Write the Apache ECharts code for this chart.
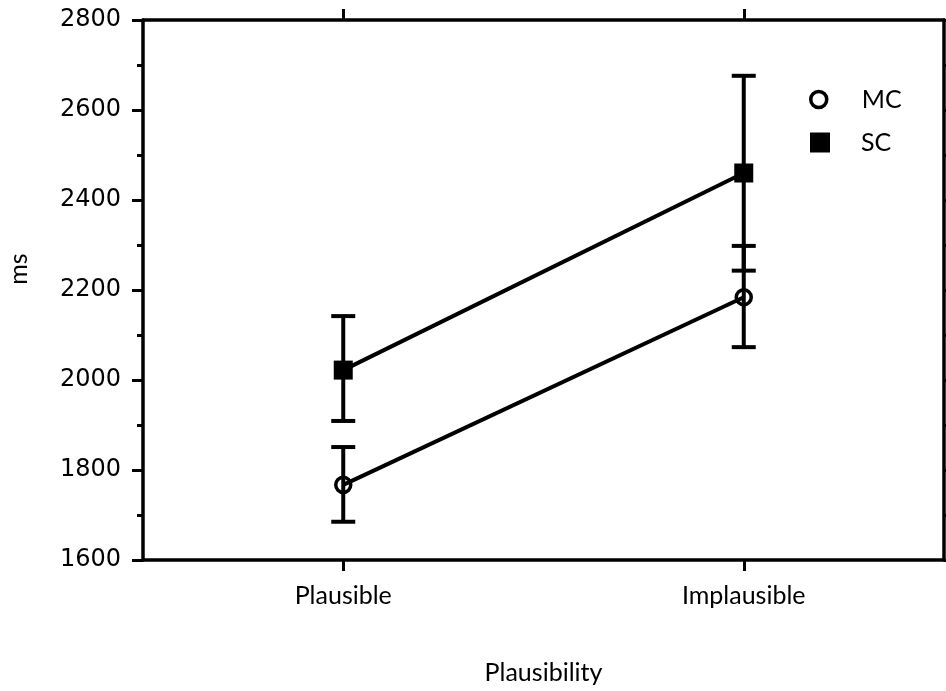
<!DOCTYPE html>
<html>
<head>
<meta charset="utf-8">
<script src="https://cdn.jsdelivr.net/npm/echarts@6/dist/echarts.min.js"></script>
<style>
  html, body { margin: 0; padding: 0; background: #fff; }
  #chart { width: 946px; height: 691px; }
</style>
</head>
<body>
<div id="chart"></div>
<script>
// values
const categories = ['Plausible', 'Implausible']
const mcMean = [1767, 2184]
const mcLow = [1685, 2073]
const mcHigh = [1851, 2298]
const scMean = [2022, 2460]
const scLow = [1909, 2243]
const scHigh = [2142, 2676]
const yTicks = [1600, 1800, 2000, 2200, 2400, 2600, 2800]

const font = 'Lato'
const numFont = 'DejaVu Sans'

function errorBars (low, high) {
  return {
    type: 'custom',
    silent: true,
    z: 1,
    data: categories.map((c, i) => [i, low[i], high[i]]),
    renderItem: (params, api) => {
      const lo = api.coord([api.value(0), api.value(1)])
      const hi = api.coord([api.value(0), api.value(2)])
      const w = 12
      const style = { stroke: '#000', lineWidth: 4 }
      return {
        type: 'group',
        children: [
          { type: 'line', shape: { x1: lo[0], y1: lo[1], x2: hi[0], y2: hi[1] }, style },
          { type: 'line', shape: { x1: lo[0] - w, y1: lo[1], x2: lo[0] + w, y2: lo[1] }, style },
          { type: 'line', shape: { x1: hi[0] - w, y1: hi[1], x2: hi[0] + w, y2: hi[1] }, style }
        ]
      }
    }
  }
}

const axisLine = { show: true, onZero: false, lineStyle: { color: '#000', width: 3.5 } }
const tick = { show: true, length: 11, lineStyle: { color: '#000', width: 3 } }
const legendText = { fontFamily: font, fontSize: 25, color: '#000', padding: [0, 0, 0, 30] }

let myChart = echarts.init(document.getElementById('chart'))
myChart.setOption({
  animation: false,
  textStyle: { fontFamily: font, color: '#000' },
  grid: { left: 143, top: 20, right: 2, bottom: 131 },
  legend: [{
    left: 804,
    top: 82,
    itemWidth: 16,
    itemHeight: 16,
    textStyle: legendText,
    data: [{ name: 'MC', icon: 'circle', itemStyle: { color: 'rgba(0,0,0,0)', borderColor: '#000', borderWidth: 3.5 } }]
  }, {
    left: 805,
    top: 125,
    itemWidth: 20,
    itemHeight: 20,
    textStyle: Object.assign({}, legendText, { padding: [0, 0, 0, 26] }),
    data: [{ name: 'SC', icon: 'rect', itemStyle: { color: '#000', borderWidth: 0 } }]
  }],
  graphic: [{
    type: 'text',
    x: 19,
    y: 269,
    rotation: Math.PI / 2,
    style: { text: 'ms', font: '25px Lato', fill: '#000', align: 'center', verticalAlign: 'middle' }
  }],
  xAxis: [{
    type: 'category',
    data: categories,
    position: 'bottom',
    axisLine,
    axisTick: Object.assign({ alignWithLabel: true }, tick),
    axisLabel: { fontFamily: font, fontSize: 25, color: '#000', margin: 23 },
    name: 'Plausibility',
    nameLocation: 'middle',
    nameGap: 100,
    nameTextStyle: { fontFamily: font, fontSize: 25, color: '#000' }
  }, {
    type: 'category',
    data: categories,
    position: 'top',
    axisLine,
    axisTick: Object.assign({ alignWithLabel: true }, tick),
    axisLabel: { show: false }
  }],
  yAxis: [{
    type: 'value',
    min: yTicks[0],
    max: yTicks[yTicks.length - 1],
    interval: 200,
    position: 'left',
    axisLine,
    axisTick: tick,
    minorTick: { show: true, splitNumber: 2, length: 6, lineStyle: { color: '#000', width: 3 } },
    splitLine: { show: false },
    axisLabel: { fontFamily: numFont, fontSize: 24, color: '#000', margin: 22, formatter: v => String(v) }
  }, {
    type: 'value',
    min: yTicks[0],
    max: yTicks[yTicks.length - 1],
    interval: 200,
    position: 'right',
    axisLine,
    axisTick: tick,
    minorTick: { show: true, splitNumber: 2, length: 6, lineStyle: { color: '#000', width: 3 } },
    splitLine: { show: false },
    axisLabel: { show: false }
  }],
  series: [
    errorBars(mcLow, mcHigh),
    errorBars(scLow, scHigh),
    {
      name: 'MC',
      type: 'line',
      z: 3,
      data: mcMean,
      symbol: 'circle',
      symbolSize: 15,
      lineStyle: { color: '#000', width: 4 },
      itemStyle: { color: 'rgba(0,0,0,0)', borderColor: '#000', borderWidth: 3.5 }
    },
    {
      name: 'SC',
      type: 'line',
      z: 3,
      data: scMean,
      symbol: 'rect',
      symbolSize: 19,
      lineStyle: { color: '#000', width: 4 },
      itemStyle: { color: '#000' }
    }
  ]
})
</script>
</body>
</html>
